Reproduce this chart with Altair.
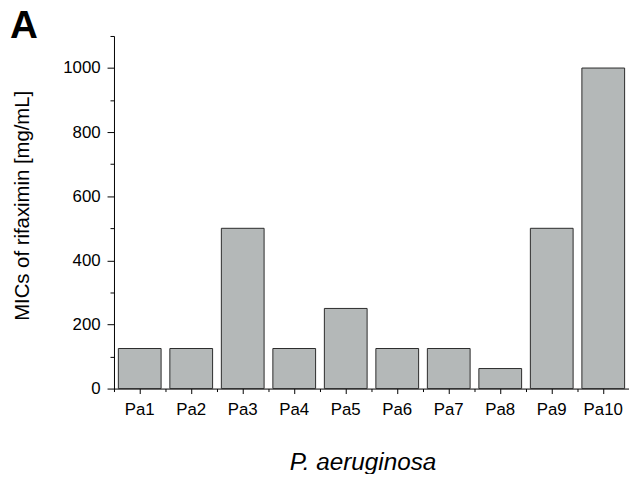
import altair as alt
import pandas as pd

strains = ["Pa1", "Pa2", "Pa3", "Pa4", "Pa5", "Pa6", "Pa7", "Pa8", "Pa9", "Pa10"]
mics = [125, 125, 500, 125, 250, 125, 125, 62.5, 500, 1000]
major_y = [0, 200, 400, 600, 800, 1000]
minor_y = [100, 300, 500, 700, 900, 1100]

df = pd.DataFrame({"strain": strains, "mic": mics})

font = "Liberation Sans"
x_scale = alt.Scale(paddingInner=0, paddingOuter=0)
y_scale = alt.Scale(domain=[0, 1100], nice=False)

bars = alt.Chart(df).mark_bar(
    width=alt.RelativeBandSize(0.83), color="#b4b8b8", stroke="#2b2b2b", strokeWidth=1
).encode(
    x=alt.X("strain:N", sort=strains, scale=x_scale,
            axis=alt.Axis(orient="bottom", title="P. aeruginosa", labelAngle=0, labelFontSize=17,
                          titleFontSize=24.5, titleFontStyle="italic", titleFontWeight="normal",
                          titlePadding=34, titleX=251, tickSize=5, labelPadding=8)),
    y=alt.Y("mic:Q", scale=y_scale,
            axis=alt.Axis(orient="left", values=major_y, format="d",
                          title="MICs of rifaximin [mg/mL]",
                          labelFontSize=17, titleFontSize=20.5, titleFontWeight="normal",
                          titlePadding=30, titleY=171, tickSize=7, labelPadding=7)),
)

minor = alt.Chart(df).mark_bar(opacity=0).encode(
    x=alt.X("strain:N", sort=strains, scale=x_scale,
            axis=alt.Axis(orient="bottom", bandPosition=0, labels=False, title=None,
                          domain=False, tickSize=3)),
    y=alt.Y("mic:Q", scale=y_scale,
            axis=alt.Axis(orient="left", values=minor_y, labels=False, title=None,
                          domain=False, tickSize=4)),
)

chart = alt.layer(bars, minor).resolve_axis(x="independent", y="independent").properties(
    width=520, height=356,
    autosize=alt.AutoSizeParams(type="none"),
    padding={"left": 107, "top": 26, "right": 0, "bottom": 84},
    title=alt.Title("A", anchor="start", frame="group", dx=-105, dy=15, fontSize=39,
                    fontWeight="bold", font=font, color="black"),
).configure_axis(
    grid=False, domainColor="black", tickColor="black", labelColor="black",
    titleColor="black", labelFont=font, titleFont=font,
).configure_view(stroke=None)

chart.save("out.html", embed_options={"renderer": "svg", "actions": False})
